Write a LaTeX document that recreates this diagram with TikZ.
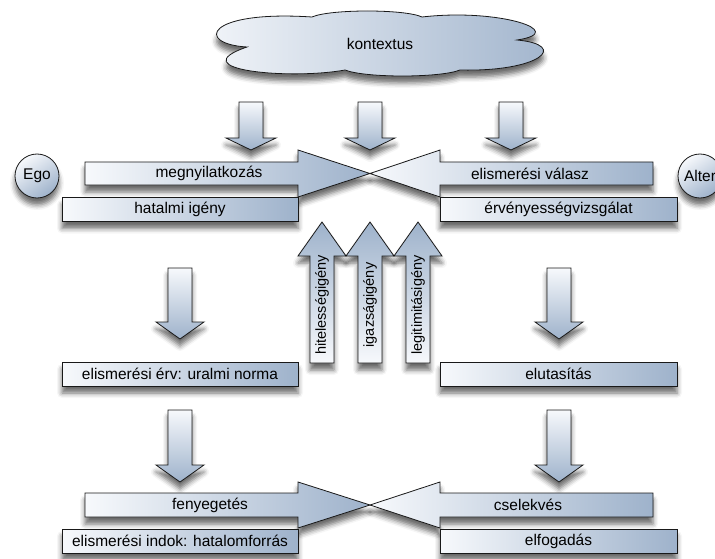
\documentclass[tikz,border=0pt]{standalone}
\usepackage{fontspec}
\setmainfont{Liberation Sans}
\usetikzlibrary{shadows.blur}
\definecolor{boxlight}{RGB}{247,249,252}
\definecolor{boxblue}{RGB}{158,178,203}
\definecolor{edge}{RGB}{25,25,25}

\begin{document}
\begin{tikzpicture}[x=1pt, y=-1pt,
  every node/.style = {font=\fontsize{15.5}{18}\selectfont, inner sep=0pt},
  base/.style = {draw=edge, line width=0.8pt,
    blur shadow={shadow xshift=0pt, shadow yshift=-7pt, shadow blur radius=5pt, shadow opacity=58}},
  hshade/.style = {base, left color=boxlight, right color=boxblue},
  downshade/.style = {base, top color=boxlight, bottom color=boxblue},
  upshade/.style = {base, bottom color=boxlight, top color=boxblue},
  textbox/.style = {hshade, minimum height=24pt},
  circ/.style = {base, circle, minimum size=44pt, top color=boxlight, bottom color=boxblue, shading angle=35},
  vtext/.style = {rotate=90, font=\fontsize{14.5}{17}\selectfont}
]
\useasboundingbox (0,0) rectangle (715,559);

\path[hshade] (247,47) .. controls (195,44) and (205,10) .. (312,17)
  .. controls (330,9) and (405,9) .. (422,17)
  .. controls (500,8) and (570,32) .. (517,40)
  .. controls (570,45) and (540,72) .. (460,70)
  .. controls (440,78) and (365,78) .. (345,70)
  .. controls (290,80) and (180,70) .. (247,47) -- cycle;
\node (kontextus) at (380,44) {kontextus};

\foreach \cx in {251,370,511}
  \path[downshade] (\cx-12,102) -- (\cx+12,102) -- (\cx+12,138) -- (\cx+25,138) -- (\cx,150)
    -- (\cx-25,138) -- (\cx-12,138) -- cycle;

\path[hshade] (85,162) -- (298,162) -- (298,150) -- (370,173.5) -- (298,197) -- (298,185) -- (85,185) -- cycle;
\path[hshade] (653,162) -- (440,162) -- (440,150) -- (370,173.5) -- (440,197) -- (440,185) -- (653,185) -- cycle;
\node (megny) at (209,173.5) {megnyilatkozás};
\node (valasz) at (530,173.5) {elismerési válasz};

\node[textbox, minimum width=236pt] (igeny) at (180,209.5) {hatalmi igény};
\node[textbox, minimum width=237pt] (vizsg) at (558.5,209.5) {érvényességvizsgálat};

\foreach \cx in {322,370,418}
  \path[upshade] (\cx-12,363) -- (\cx-12,256) -- (\cx-24,256) -- (\cx,222) -- (\cx+24,256)
    -- (\cx+12,256) -- (\cx+12,363) -- cycle;
\node[vtext] (hitel) at (322,305) {hitelességigény};
\node[vtext] (igazsag) at (370,305) {igazságigény};
\node[vtext] (legit) at (418,305) {legitimitásigény};

\foreach \cx/\ya/\yb/\yc in {180/268/322/339, 559/268/322/339, 180/410/465/482, 559/410/465/482}
  \path[downshade] (\cx-12,\ya) -- (\cx+12,\ya) -- (\cx+12,\yb) -- (\cx+24,\yb) -- (\cx,\yc)
    -- (\cx-24,\yb) -- (\cx-12,\yb) -- cycle;

\node[textbox, minimum width=236pt] (erv) at (180,374) {elismerési érv: uralmi norma};
\node[textbox, minimum width=237pt] (elut) at (558.5,374) {elutasítás};

\path[hshade] (85,493) -- (298,493) -- (298,482) -- (370,505) -- (298,528) -- (298,517) -- (85,517) -- cycle;
\path[hshade] (653,493) -- (440,493) -- (440,482) -- (370,505) -- (440,528) -- (440,517) -- (653,517) -- cycle;
\node (fenyeg) at (210,505) {fenyegetés};
\node (cselek) at (528,505) {cselekvés};

\node[textbox, minimum width=236pt] (indok) at (180,541) {elismerési indok: hatalomforrás};
\node[textbox, minimum width=237pt] (elfog) at (558.5,541) {elfogadás};

\node[circ] (ego) at (37,176) {Ego};
\node[circ] (alter) at (700,176) {Alter};
\end{tikzpicture}
\end{document}
